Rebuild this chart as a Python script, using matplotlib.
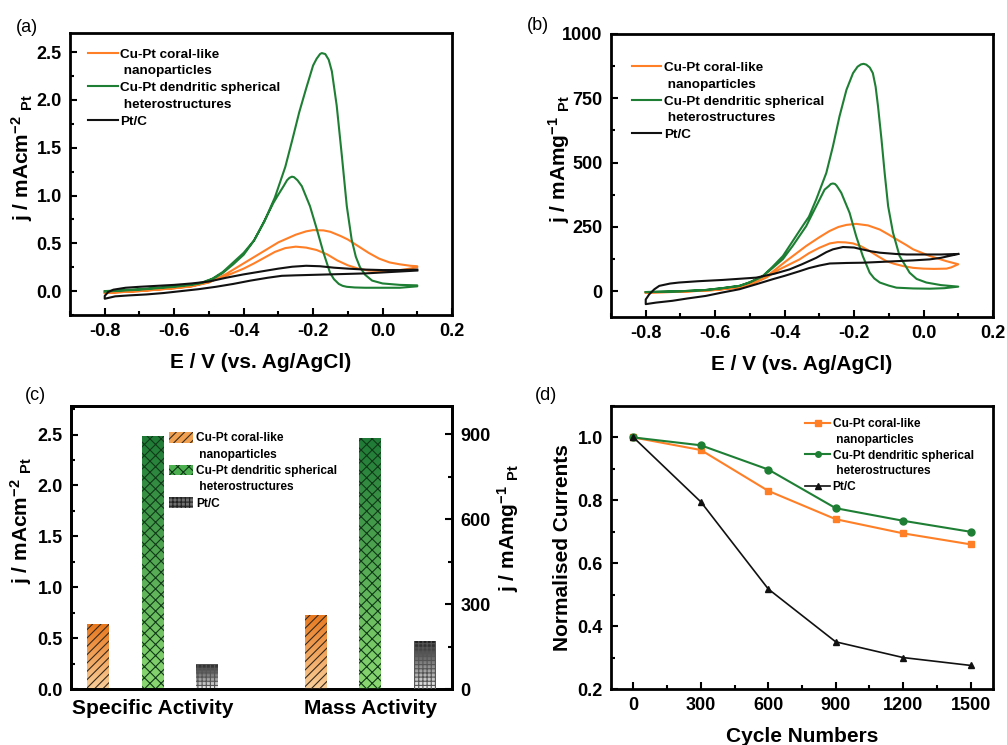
import numpy as np
import matplotlib
matplotlib.use('Agg')
import matplotlib.pyplot as plt
from matplotlib.lines import Line2D
from matplotlib.patches import Patch
from matplotlib.colors import LinearSegmentedColormap
from matplotlib.ticker import MultipleLocator

plt.rcParams['font.family'] = 'Liberation Sans'
plt.rcParams['font.weight'] = 'bold'
plt.rcParams['axes.labelweight'] = 'bold'
plt.rcParams['mathtext.fontset'] = 'custom'
plt.rcParams['mathtext.rm'] = 'Liberation Sans:bold'
plt.rcParams['mathtext.it'] = 'Liberation Sans:bold'
plt.rcParams['mathtext.bf'] = 'Liberation Sans:bold'
plt.rcParams['axes.unicode_minus'] = False
plt.rcParams['axes.linewidth'] = 2.0
plt.rcParams['hatch.linewidth'] = 0.8

ORANGE = '#FF7F27'
GREEN = '#1E7F34'
BLACK = '#111111'

# ---- (a) CV, specific activity (E in V, j in mA cm-2) ----
a_orange_fwd_E = [-0.80, -0.75, -0.70, -0.65, -0.60, -0.55, -0.50, -0.45, -0.40, -0.35, -0.30, -0.25, -0.22,
                  -0.20, -0.17, -0.15, -0.12, -0.10, -0.07, -0.04, -0.01, 0.02, 0.05, 0.08, 0.10]
a_orange_fwd_j = [-0.02, -0.01, 0.00, 0.015, 0.03, 0.05, 0.09, 0.18, 0.29, 0.40, 0.51, 0.59, 0.625,
                  0.638, 0.635, 0.62, 0.575, 0.54, 0.47, 0.40, 0.34, 0.30, 0.28, 0.265, 0.26]
a_orange_rev_E = [0.10, 0.07, 0.04, 0.00, -0.04, -0.07, -0.10, -0.13, -0.16, -0.19, -0.22, -0.25, -0.28,
                  -0.31, -0.34, -0.37, -0.40, -0.45, -0.50, -0.55, -0.60, -0.65, -0.70, -0.75, -0.80]
a_orange_rev_j = [0.25, 0.23, 0.215, 0.21, 0.215, 0.235, 0.27, 0.32, 0.385, 0.43, 0.455, 0.465, 0.45,
                  0.41, 0.35, 0.29, 0.235, 0.16, 0.095, 0.05, 0.03, 0.015, 0.00, -0.01, -0.02]

a_green_fwd_E = [-0.80, -0.75, -0.70, -0.65, -0.60, -0.55, -0.52, -0.49, -0.46, -0.43, -0.40, -0.37, -0.34,
                 -0.31, -0.28, -0.26, -0.24, -0.22, -0.20, -0.19, -0.18, -0.175, -0.165, -0.155, -0.146,
                 -0.139, -0.132, -0.117, -0.103, -0.089, -0.077, -0.065, -0.05, -0.03, 0.00, 0.05, 0.10]
a_green_fwd_j = [0.00, 0.01, 0.02, 0.035, 0.05, 0.07, 0.09, 0.13, 0.20, 0.30, 0.40, 0.53, 0.73,
                 0.98, 1.30, 1.58, 1.87, 2.12, 2.36, 2.43, 2.48, 2.49, 2.48, 2.42, 2.30,
                 2.12, 1.94, 1.41, 0.89, 0.54, 0.36, 0.25, 0.17, 0.11, 0.08, 0.065, 0.06]
a_green_rev_E = [0.10, 0.05, 0.00, -0.05, -0.08, -0.103, -0.115, -0.126, -0.14, -0.151, -0.17, -0.189,
                 -0.209, -0.2325, -0.245, -0.255, -0.261, -0.268, -0.275, -0.285, -0.30, -0.314, -0.343,
                 -0.37, -0.40, -0.43, -0.46, -0.49, -0.52, -0.55, -0.60, -0.65, -0.70, -0.75, -0.80]
a_green_rev_j = [0.05, 0.035, 0.035, 0.035, 0.038, 0.045, 0.055, 0.075, 0.125, 0.19, 0.40, 0.645,
                 0.889, 1.098, 1.16, 1.192, 1.197, 1.185, 1.16, 1.098, 1.01, 0.925, 0.715,
                 0.53, 0.38, 0.28, 0.19, 0.125, 0.085, 0.065, 0.045, 0.03, 0.015, 0.005, -0.005]

a_black_up_E = [-0.80, -0.79, -0.775, -0.74, -0.70, -0.65, -0.60, -0.55, -0.50, -0.45, -0.40, -0.35,
                -0.30, -0.26, -0.22, -0.18, -0.14, -0.10, -0.05, 0.00, 0.05, 0.10]
a_black_up_j = [-0.05, -0.01, 0.015, 0.035, 0.045, 0.055, 0.065, 0.08, 0.10, 0.14, 0.175, 0.205,
                0.235, 0.255, 0.265, 0.26, 0.245, 0.235, 0.225, 0.22, 0.22, 0.225]
a_black_low_E = [0.10, 0.05, 0.00, -0.05, -0.10, -0.15, -0.20, -0.25, -0.29, -0.33, -0.38, -0.43,
                 -0.48, -0.53, -0.58, -0.63, -0.68, -0.73, -0.77, -0.80]
a_black_low_j = [0.215, 0.205, 0.195, 0.185, 0.18, 0.175, 0.17, 0.165, 0.16, 0.14, 0.11, 0.075,
                 0.045, 0.02, 0.00, -0.02, -0.035, -0.045, -0.055, -0.08]

# ---- (b) CV, mass activity (j in mA mg-1) ----
b_orange_fwd_E = [-0.80, -0.70, -0.60, -0.53, -0.50, -0.45, -0.396, -0.338, -0.30, -0.271, -0.245, -0.222,
                  -0.194, -0.16, -0.126, -0.10, -0.078, -0.05, -0.03, 0.018, 0.066, 0.10]
b_orange_fwd_j = [-5, -2, 5, 15, 25, 60, 117, 176, 210, 234, 250, 258,
                  262, 256, 240, 220, 202, 180, 163, 137, 117, 105]
b_orange_rev_E = [0.10, 0.08, 0.066, 0.03, 0.00, -0.03, -0.059, -0.085, -0.107, -0.13, -0.155, -0.18,
                  -0.203, -0.225, -0.247, -0.27, -0.30, -0.33, -0.357, -0.415, -0.453, -0.50, -0.53,
                  -0.60, -0.70, -0.80]
b_orange_rev_j = [105, 93, 88, 87, 88, 91, 98, 107, 117, 135, 156, 175,
                  186, 190, 191, 186, 169, 148, 124, 85, 53, 25, 15,
                  5, -2, -5]

b_green_fwd_E = [-0.80, -0.70, -0.627, -0.58, -0.53, -0.50, -0.463, -0.435, -0.405, -0.386, -0.35, -0.33,
                 -0.309, -0.28, -0.261, -0.242, -0.222, -0.203, -0.19, -0.18, -0.1725, -0.165, -0.155,
                 -0.146, -0.138, -0.131, -0.121, -0.112, -0.102, -0.088, -0.069, -0.04, -0.02, 0.008,
                 0.05, 0.10]
b_green_fwd_j = [-3, 0, 5, 12, 21, 35, 59, 95, 137, 176, 250, 290,
                 357, 460, 563, 680, 783, 848, 873, 882, 884, 881, 870,
                 848, 795, 718, 589, 460, 331, 228, 137, 72, 48, 34,
                 24, 18]
b_green_rev_E = [0.10, 0.06, 0.018, -0.03, -0.078, -0.10, -0.126, -0.142, -0.155, -0.175, -0.194, -0.213,
                 -0.237, -0.25, -0.255, -0.261, -0.267, -0.272, -0.285, -0.309, -0.338, -0.377, -0.405,
                 -0.435, -0.463, -0.50, -0.53, -0.58, -0.627, -0.70, -0.80]
b_green_rev_j = [18, 12, 10, 11, 14, 22, 34, 50, 72, 137, 214, 305,
                 383, 410, 417, 419, 417, 410, 395, 331, 253, 176, 125,
                 90, 59, 35, 21, 12, 5, 0, -3]

b_black_up_E = [-0.80, -0.79, -0.775, -0.761, -0.73, -0.704, -0.65, -0.579, -0.482, -0.43, -0.386, -0.35,
                -0.309, -0.28, -0.261, -0.232, -0.20, -0.184, -0.15, -0.126, -0.08, -0.049, 0.00, 0.05, 0.10]
b_black_up_j = [-32, -12, 8, 21, 30, 34, 39, 44, 53, 68, 85, 105,
                130, 152, 163, 172, 170, 165, 155, 150, 145, 143, 143, 143, 145]
b_black_low_E = [0.10, 0.05, 0.018, -0.03, -0.078, -0.125, -0.175, -0.222, -0.27, -0.30, -0.33, -0.357,
                 -0.40, -0.434, -0.48, -0.53, -0.58, -0.627, -0.68, -0.723, -0.77, -0.80]
b_black_low_j = [145, 130, 124, 120, 117, 114, 111, 110, 108, 100, 90, 78,
                 60, 47, 28, 8, -5, -18, -28, -37, -44, -50]

# ---- (c) bars ----
groups = ['Specific Activity', 'Mass Activity']
specific = [0.635, 2.49, 0.25]     # mA cm-2
mass = [262, 886, 170]             # mA mg-1

# ---- (d) stability ----
cycles = [0, 300, 600, 900, 1200, 1500]
d_orange = [1.0, 0.96, 0.83, 0.74, 0.695, 0.66]
d_green = [1.0, 0.975, 0.898, 0.775, 0.735, 0.70]
d_black = [1.0, 0.795, 0.518, 0.35, 0.30, 0.275]

labels = ['Cu-Pt coral-like', ' nanoparticles', 'Cu-Pt dendritic spherical', ' heterostructures', 'Pt/C']


def style(ax, right=False):
    ax.tick_params(which='both', direction='in', top=False, right=right, labelsize=13, width=1.5, pad=6)
    ax.tick_params(which='major', length=5)
    ax.tick_params(which='minor', length=3)
    for s in ax.spines.values():
        s.set_linewidth(2.0)


def cv_legend(ax, anchor, size):
    blank = Line2D([], [], color='none')
    handles = [Line2D([], [], color=ORANGE, lw=1.5), blank,
               Line2D([], [], color=GREEN, lw=1.5), blank,
               Line2D([], [], color=BLACK, lw=1.5)]
    ax.legend(handles, labels, loc='upper left', bbox_to_anchor=anchor, frameon=False,
              fontsize=size, borderpad=0, borderaxespad=0, handlelength=2.2,
              handletextpad=0.2, labelspacing=0.32)


fig = plt.figure(figsize=(10.07, 7.45), dpi=100)
W, H = 1007, 745
ax_a = fig.add_axes([70 / W, 1 - 315 / H, 382 / W, 282 / H])
ax_b = fig.add_axes([611 / W, 1 - 317 / H, 382 / W, 283 / H])
ax_c = fig.add_axes([71 / W, 1 - 689 / H, 381 / W, 283 / H])
ax_d = fig.add_axes([611 / W, 1 - 689 / H, 382 / W, 283 / H])

# (a)
ax_a.plot(a_orange_fwd_E + a_orange_rev_E, a_orange_fwd_j + a_orange_rev_j, color=ORANGE, lw=1.5)
ax_a.plot(a_green_fwd_E + a_green_rev_E, a_green_fwd_j + a_green_rev_j, color=GREEN, lw=1.5)
ax_a.plot(a_black_low_E + a_black_up_E, a_black_low_j + a_black_up_j, color=BLACK, lw=1.5)
ax_a.set_xlim(-0.9, 0.2)
ax_a.set_ylim(-0.25, 2.7)
ax_a.xaxis.set_major_locator(MultipleLocator(0.2))
ax_a.xaxis.set_minor_locator(MultipleLocator(0.1))
ax_a.yaxis.set_major_locator(MultipleLocator(0.5))
ax_a.yaxis.set_minor_locator(MultipleLocator(0.25))
style(ax_a)
ax_a.set_xlabel('E / V (vs. Ag/AgCl)', fontsize=15, labelpad=9)
ax_a.set_ylabel(r'j / mAcm$^{-2}$ $_{Pt}$', fontsize=15)
ax_a.yaxis.set_label_coords(-0.092, 0.557)
cv_legend(ax_a, (0.047, 0.946), 9.7)

# (b)
ax_b.plot(b_orange_fwd_E + b_orange_rev_E, b_orange_fwd_j + b_orange_rev_j, color=ORANGE, lw=1.5)
ax_b.plot(b_green_fwd_E + b_green_rev_E, b_green_fwd_j + b_green_rev_j, color=GREEN, lw=1.5)
ax_b.plot(b_black_low_E + b_black_up_E, b_black_low_j + b_black_up_j, color=BLACK, lw=1.5)
ax_b.set_xlim(-0.9, 0.2)
ax_b.set_ylim(-100, 1000)
ax_b.xaxis.set_major_locator(MultipleLocator(0.2))
ax_b.xaxis.set_minor_locator(MultipleLocator(0.1))
ax_b.yaxis.set_major_locator(MultipleLocator(250))
ax_b.yaxis.set_minor_locator(MultipleLocator(125))
style(ax_b)
ax_b.set_xlabel('E / V (vs. Ag/AgCl)', fontsize=15, labelpad=9)
ax_b.set_ylabel(r'j / mAmg$^{-1}$ $_{Pt}$', fontsize=15)
ax_b.yaxis.set_label_coords(-0.102, 0.56)
cv_legend(ax_b, (0.054, 0.902), 9.7)

# (c)
bar_styles = [
    (['#F9CF9A', '#E8781E'], '////', '#3a2a1a'),
    (['#8BD872', '#1E7A36'], 'xxx', '#103a18'),
    (['#F2F2F2', '#1A1A1A'], '++++', '#555555'),
]
ax_c2 = ax_c.twinx()
spec_pos = np.arange(len(specific))
mass_pos = np.arange(len(mass)) + len(specific) + 1


def gradient_bars(ax, pos, vals):
    for p, v, (cols, hatch, hc) in zip(pos, vals, bar_styles):
        bar = ax.bar(p, v, width=0.4, facecolor='none', edgecolor=hc, hatch=hatch, linewidth=0, zorder=3)[0]
        cmap = LinearSegmentedColormap.from_list('g', cols)
        grad = np.linspace(0, 1, 256).reshape(-1, 1)
        x0, w, h = bar.get_x(), bar.get_width(), bar.get_height()
        im = ax.imshow(grad, extent=(x0, x0 + w, 0, h), origin='lower', cmap=cmap, aspect='auto', zorder=2)
        im.set_clip_path(bar)


gradient_bars(ax_c, spec_pos, specific)
gradient_bars(ax_c2, mass_pos, mass)
ax_c.set_xlim(-0.5, 6.5)
ax_c.set_ylim(0, 2.78)
ax_c2.set_ylim(0, 1000)
ax_c.yaxis.set_major_locator(MultipleLocator(0.5))
ax_c.yaxis.set_minor_locator(MultipleLocator(0.25))
ax_c2.yaxis.set_major_locator(MultipleLocator(300))
ax_c2.yaxis.set_minor_locator(MultipleLocator(150))
style(ax_c)
ax_c2.tick_params(which='both', direction='in', labelsize=13, width=1.5, pad=6)
ax_c2.tick_params(which='major', length=5)
ax_c2.tick_params(which='minor', length=3)
ax_c.set_xticks([spec_pos[1], mass_pos[1]])
ax_c.set_xticklabels(groups, fontsize=15)
ax_c.tick_params(axis='x', length=0, pad=7)
ax_c.set_ylabel(r'j / mAcm$^{-2}$ $_{Pt}$', fontsize=15)
ax_c.yaxis.set_label_coords(-0.097, 0.594)
ax_c2.set_ylabel(r'j / mAmg$^{-1}$ $_{Pt}$', fontsize=15)
ax_c2.yaxis.set_label_coords(1.113, 0.57)
blank = Patch(facecolor='none', edgecolor='none')
c_handles = [Patch(facecolor='#F0A050', edgecolor=bar_styles[0][2], hatch='////', lw=0), blank,
             Patch(facecolor='#4CAF50', edgecolor=bar_styles[1][2], hatch='xxx', lw=0), blank,
             Patch(facecolor='#707070', edgecolor='#222222', hatch='++++', lw=0)]
ax_c2.legend(c_handles, labels, loc='upper left', bbox_to_anchor=(0.257, 0.908), frameon=False,
             fontsize=8.6, borderpad=0, borderaxespad=0, handlelength=2.0, handleheight=1.0,
             handletextpad=0.3, labelspacing=0.32)

# (d)
ax_d.plot(cycles, d_orange, color=ORANGE, lw=1.5, marker='s', ms=5, label='Cu-Pt coral-like')
ax_d.plot(cycles, d_green, color=GREEN, lw=1.5, marker='o', ms=5, label='Cu-Pt dendritic spherical')
ax_d.plot(cycles, d_black, color=BLACK, lw=1.2, marker='^', ms=5, label='Pt/C')
ax_d.set_xlim(-100, 1600)
ax_d.set_ylim(0.2, 1.1)
ax_d.xaxis.set_major_locator(MultipleLocator(300))
ax_d.xaxis.set_minor_locator(MultipleLocator(150))
ax_d.yaxis.set_major_locator(MultipleLocator(0.2))
ax_d.yaxis.set_minor_locator(MultipleLocator(0.1))
style(ax_d)
ax_d.set_xlabel('Cycle Numbers', fontsize=15, labelpad=9)
ax_d.set_ylabel('Normalised Currents', fontsize=15)
ax_d.yaxis.set_label_coords(-0.102, 0.5)
lines = ax_d.get_lines()
blank_l = Line2D([], [], color='none')
ax_d.legend([lines[0], blank_l, lines[1], blank_l, lines[2]], labels, loc='upper left',
            bbox_to_anchor=(0.508, 0.958), frameon=False, fontsize=8.6, borderpad=0, borderaxespad=0,
            handlelength=2.1, handletextpad=0.2, labelspacing=0.32, markerscale=0.8)

for txt, x, y in [('(a)', 16, 27), ('(b)', 527, 25), ('(c)', 25, 395), ('(d)', 535, 395)]:
    fig.text(x / W, 1 - y / H, txt, fontsize=13, fontweight='normal', va='center', ha='left')

fig.savefig('out.png', dpi=100)
